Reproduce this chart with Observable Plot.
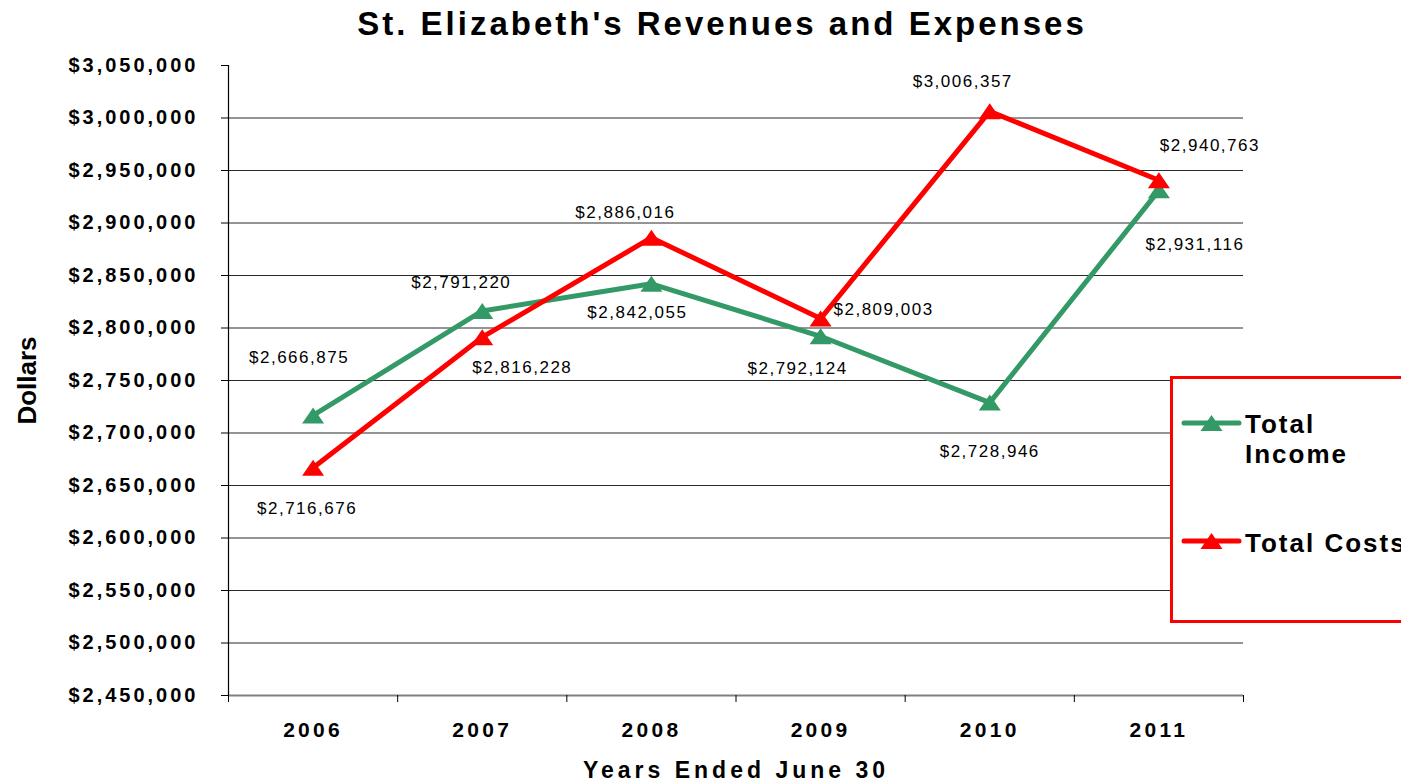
<!DOCTYPE html>
<html><head><meta charset="utf-8">
<script src="https://cdn.jsdelivr.net/npm/d3@7"></script>
<script src="https://cdn.jsdelivr.net/npm/@observablehq/plot@0.6"></script>
<style>
html,body{margin:0;padding:0;background:#fff;overflow:hidden;width:1401px;height:782px;}
body{position:relative;font-family:"Liberation Sans",Arial,sans-serif;color:#000;}
#title{height:45px;line-height:47px;padding-left:43px;text-align:center;font-size:33px;font-weight:bold;letter-spacing:3px;white-space:nowrap;}
#chart{position:absolute;left:0;top:45px;}
#legend{position:absolute;left:1170px;top:376px;width:260px;height:247px;border:3px solid #ff0000;box-sizing:border-box;background:#fff;}
#legend .sw{position:absolute;left:8px;width:61px;height:20px;}
#legend .lt{position:absolute;left:72px;font-size:26px;line-height:30px;font-weight:bold;letter-spacing:2px;white-space:nowrap;}
</style>
</head><body>
<div id="title">St. Elizabeth's Revenues and Expenses</div>
<div id="chart"></div>
<div id="legend"></div>
<script>
// ---- data ----
const years = [2006, 2007, 2008, 2009, 2010, 2011];
const seriesNames = ["Total Income", "Total Costs"];
const totalIncome = [2716676, 2816228, 2842055, 2792124, 2728946, 2931116];
const totalCosts  = [2666875, 2791220, 2886016, 2809003, 3006357, 2940763];
const yTicks = [2450000, 2500000, 2550000, 2600000, 2650000, 2700000, 2750000,
                2800000, 2850000, 2900000, 2950000, 3000000, 3050000];
const seriesColors = ["#339966", "#ff0000"];
const xTitle = "Years Ended June 30";
const yTitle = "Dollars";
// label placement offsets (px) relative to each point
const incomeLabelDx = [-6, 40, -14, -23, 0, 36];
const incomeLabelDy = [93, 57, 29, 32, 49, 54];
const costsLabelDx = [-14, -21, -26, 63, -27, 51];
const costsLabelDy = [-110, -55, -25, -9, -30, -35];

const money = d3.format("$,");
const rows = [];
years.forEach((yr, i) => rows.push({year: yr, value: totalIncome[i], series: seriesNames[0]}));
years.forEach((yr, i) => rows.push({year: yr, value: totalCosts[i], series: seriesNames[1]}));

const bounds = [years[0] - 0.5, ...years.map(y => y + 0.5)];
const xDomain = [bounds[0], bounds[bounds.length - 1]];
const yDomain = [yTicks[0], yTicks[yTicks.length - 1]];
const gridVals = yTicks.slice(1, -1);

const flatTriangle = {
  draw(context, size) {
    const r = Math.sqrt(size / Math.PI);
    context.moveTo(0, -0.8 * r);
    context.lineTo(1.1 * r, 0.8 * r);
    context.lineTo(-1.1 * r, 0.8 * r);
    context.closePath();
  }
};

const labelMarks = [];
const offsets = [[incomeLabelDx, incomeLabelDy], [costsLabelDx, costsLabelDy]];
seriesNames.forEach((name, s) => {
  const vals = s === 0 ? totalIncome : totalCosts;
  years.forEach((yr, i) => {
    labelMarks.push(Plot.text([{year: yr, value: vals[i]}], {
      x: "year", y: "value", text: d => money(d.value),
      dx: offsets[s][0][i], dy: offsets[s][1][i], textAnchor: "middle",
      fontSize: 17, fill: "#000"
    }));
  });
});

const chart = Plot.plot({
  width: 1401,
  height: 737,
  marginLeft: 228,
  marginRight: 158,
  marginTop: 20,
  marginBottom: 87,
  style: {fontFamily: "Liberation Sans, Arial, sans-serif", color: "#000", background: "#fff"},
  x: {domain: xDomain},
  y: {domain: yDomain},
  color: {domain: seriesNames, range: seriesColors},
  marks: [
    Plot.ruleY(gridVals, {stroke: "#2a2a2a", strokeWidth: 1}),
    Plot.ruleY([yTicks[0]], {stroke: "#808080", strokeWidth: 2}),
    Plot.ruleX([xDomain[0]], {stroke: "#000", strokeWidth: 1.2}),
    Plot.axisY({ticks: yTicks, tickFormat: money, tickSize: 7, tickPadding: 23,
      fontSize: 20, fontWeight: "bold", stroke: "#000", label: null}),
    Plot.axisX({ticks: bounds, tickFormat: () => "", tickSize: 7, stroke: "#000", label: null}),
    Plot.axisX({ticks: years, tickFormat: d => String(d), tickSize: 0, tickPadding: 27,
      fontSize: 21, fontWeight: "bold", label: null}),
    Plot.text([xTitle], {text: d => d, frameAnchor: "bottom", textAnchor: "middle", dy: 82,
      fontSize: 23, fontWeight: "bold"}),
    Plot.text([yTitle], {text: d => d, frameAnchor: "left", textAnchor: "middle", rotate: -90, dx: -201,
      fontSize: 26, fontWeight: "bold"}),
    Plot.line(rows, {x: "year", y: "value", z: "series", stroke: "series",
      strokeWidth: 5, strokeLinejoin: "round", strokeLinecap: "round"}),
    Plot.dot(rows, {x: "year", y: "value", fill: "series", symbol: flatTriangle, r: 10}),
    ...labelMarks
  ]
});
document.getElementById("chart").appendChild(chart);

const svg = d3.select(chart);
const tickSet = new Set(yTicks.map(money));
const yearSet = new Set(years.map(String));
const dataSet = new Set([...totalIncome, ...totalCosts].map(money));
svg.selectAll("text").each(function() {
  const t = this.textContent;
  let ls = null;
  if (tickSet.has(t)) ls = "3px";
  else if (yearSet.has(t)) ls = "3.3px";
  else if (dataSet.has(t)) ls = "1.5px";
  else if (t === xTitle) ls = "4px";
  if (ls) this.style.letterSpacing = ls;
});

// legend
const legend = d3.select("#legend");
const legendRows = [{name: "Total", name2: "Income", color: seriesColors[0], swTop: 34, txtTop: 30},
                    {name: "Total Costs", name2: null, color: seriesColors[1], swTop: 152, txtTop: 149}];
legendRows.forEach(r => {
  const sw = legend.append("svg").attr("class", "sw").style("top", r.swTop + "px")
    .attr("width", 61).attr("height", 20);
  sw.append("line").attr("x1", 3).attr("x2", 58).attr("y1", 10).attr("y2", 10)
    .attr("stroke", r.color).attr("stroke-width", 5).attr("stroke-linecap", "round");
  sw.append("path").attr("d", "M30.5,2L41.5,18L19.5,18Z").attr("fill", r.color);
  const t = legend.append("div").attr("class", "lt").style("top", r.txtTop + "px");
  t.append("div").text(r.name);
  if (r.name2) t.append("div").text(r.name2);
});
</script>
</body></html>
